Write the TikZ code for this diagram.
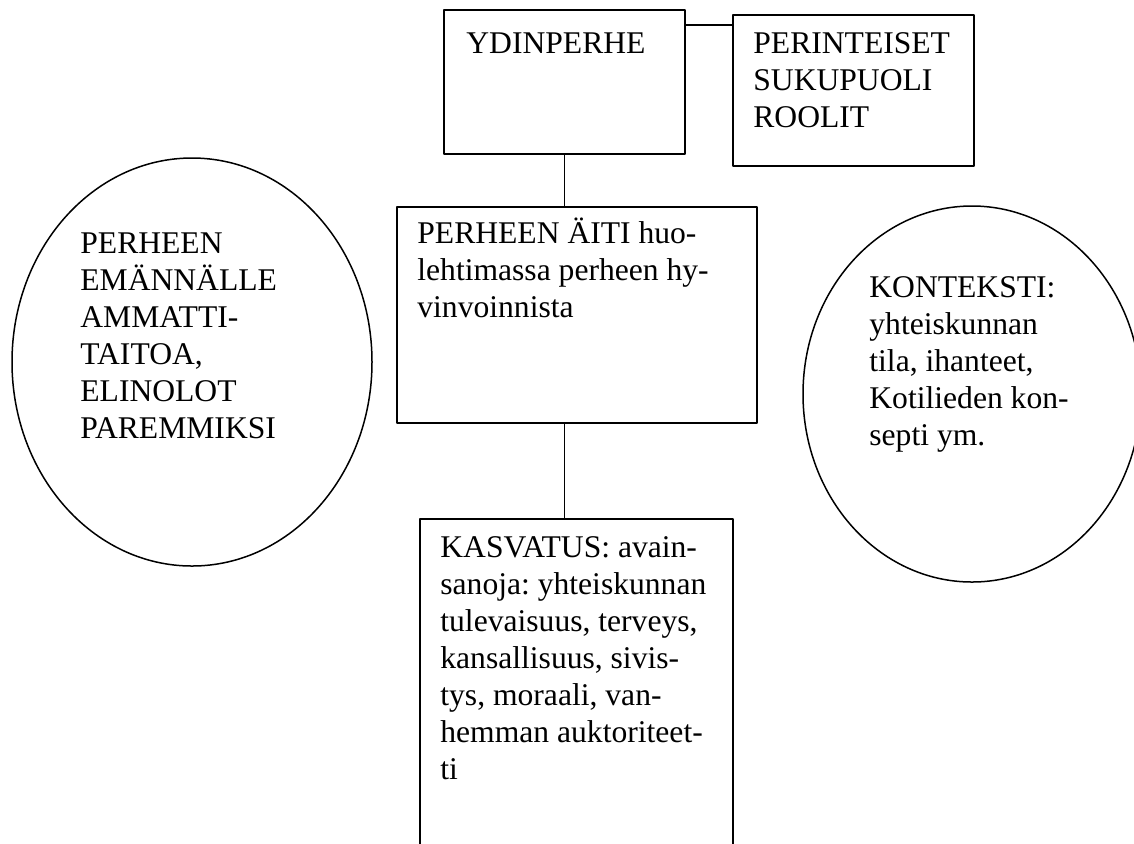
\documentclass[tikz,border=0pt]{standalone}
\usepackage{fontspec}
\setmainfont{Liberation Serif}
\usetikzlibrary{shapes.geometric}
\begin{document}
\begin{tikzpicture}[x=0.5pt, y=-0.5pt, line cap=round, line join=round, font=\fontsize{15.8pt}{18.5pt}\selectfont\frenchspacing]
	\tikzset{laatikko/.style={draw, line width=0.9pt, inner sep=0pt, anchor=north west},
		soikio/.style={draw, ellipse, line width=0.75pt, inner sep=0pt},
		teksti/.style={anchor=north west, inner sep=0pt, align=left}}
	\useasboundingbox (0,0) rectangle (1134,843);
	\clip (0,0) rectangle (1134,843);
	% laatikot
	\node[laatikko, minimum width=120.5pt, minimum height=72pt] (ydin) at (443,9) {};
	\node[laatikko, minimum width=120.5pt, minimum height=75.5pt] (perint) at (732,14) {};
	\node[laatikko, minimum width=180pt, minimum height=108pt] (aiti) at (396,206) {};
	\node[laatikko, minimum width=156.5pt, minimum height=200pt] (kasvatus) at (419,518) {};
	\node[teksti] (ydinT) at ([shift={(23,18)}]ydin.north west) {\strut YDINPERHE};
	\node[teksti] (perintT) at ([shift={(21,13)}]perint.north west) {\strut PERINTEISET\\SUKUPUOLI\\ROOLIT};
	\node[teksti] (aitiT) at ([shift={(21,11)}]aiti.north west) {\strut PERHEEN ÄITI huo-\\lehtimassa perheen hy-\\vinvoinnista};
	\node[teksti] (kasvatusT) at ([shift={(21,13)}]kasvatus.north west) {\strut KASVATUS: avain-\\sanoja: yhteiskunnan\\tulevaisuus, terveys,\\kansallisuus, sivis-\\tys, moraali, van-\\hemman auktoriteet-\\ti};
	% soikiot
	\node[soikio, minimum width=180pt, minimum height=204pt] (emanta) at (192,362) {};
	\node[soikio, minimum width=169pt, minimum height=188pt] (konteksti) at (972,394) {};
	\node[teksti] (emantaT) at (80,227) {\strut PERHEEN\\EMÄNNÄLLE\\AMMATTI-\\TAITOA,\\ELINOLOT\\PAREMMIKSI};
	\node[teksti] (kontekstiT) at (869,271) {\strut KONTEKSTI:\\yhteiskunnan\\tila, ihanteet,\\Kotilieden kon-\\septi ym.};
	% viivat
	\coordinate (haara) at ([yshift=-8pt]ydin.north east);
	\draw[line width=0.75pt] (haara) -- (haara -| perint.west);
	\draw[line width=0.75pt] (ydin.south) -- (ydin.south |- aiti.north);
	\draw[line width=0.75pt] (ydin.south |- aiti.south) -- (ydin.south |- kasvatus.north);
\end{tikzpicture}
\end{document}
